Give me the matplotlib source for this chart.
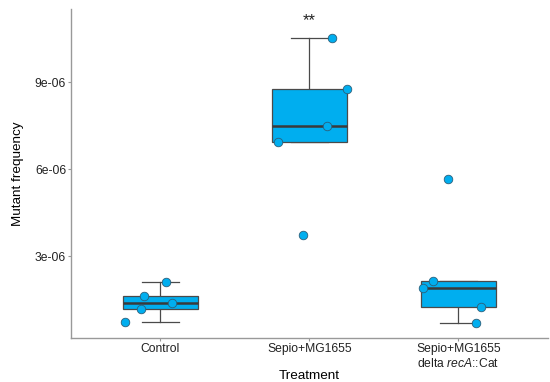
import matplotlib
matplotlib.use('Agg')
import matplotlib.pyplot as plt
import numpy as np

plt.rcParams['font.family'] = ['Liberation Sans', 'DejaVu Sans']
plt.rcParams['mathtext.fontset'] = 'custom'
plt.rcParams['mathtext.rm'] = 'Liberation Sans'
plt.rcParams['mathtext.it'] = 'Liberation Sans:italic'

# Данные (частота мутантов)
categories = ['Control', 'Sepio+MG1655', 'Sepio+MG1655\ndelta $\\it{recA}$::Cat']
control = [2.10e-6, 1.63e-6, 1.38e-6, 1.16e-6, 0.71e-6]
sepio = [10.52e-6, 8.76e-6, 7.49e-6, 6.93e-6, 3.72e-6]
sepio_reca = [5.66e-6, 2.14e-6, 1.91e-6, 1.25e-6, 0.69e-6]
# смещения точек по x (jitter)
jitter = [
    [0.04, -0.11, 0.08, -0.13, -0.24],
    [0.15, 0.25, 0.12, -0.21, -0.04],
    [-0.07, -0.17, -0.24, 0.15, 0.12],
]
signif = ['', '**', '']
signif_y = 11.14e-6

groups = [control, sepio, sepio_reca]
blue = '#00AEEF'
edge = '#3a3a3a'

fig = plt.figure(figsize=(5.5, 3.82), dpi=100)
ax = fig.add_axes([0.129, 0.115, 0.867, 0.861])

pos = np.arange(1, len(groups) + 1)
bp = ax.boxplot(groups, positions=pos, widths=0.5, whis=1.5, showfliers=False,
                patch_artist=True, capwidths=0.25,
                boxprops=dict(facecolor=blue, edgecolor='#4a4a4a', linewidth=0.9),
                whiskerprops=dict(color='#4a4a4a', linewidth=0.9),
                capprops=dict(color='#4a4a4a', linewidth=0.9),
                medianprops=dict(color=edge, linewidth=1.8))
for w in bp['whiskers'] + bp['caps']:
    w.set_zorder(1)
for b in bp['boxes']:
    b.set_zorder(2)
for m in bp['medians']:
    m.set_zorder(3)

for i, vals in enumerate(groups):
    ax.scatter(pos[i] + np.array(jitter[i]), vals, s=38, color=blue,
               edgecolors='#2b5f7a', linewidths=0.6, zorder=4)
    if signif[i]:
        ax.text(pos[i], signif_y, signif[i], ha='center', va='center',
                fontsize=12, color='#222222')

ax.set_xlim(0.4, 3.6)
ax.set_ylim(0.17e-6, 11.52e-6)
ax.set_xticks(pos)
ax.set_xticklabels(categories, fontsize=8.7, linespacing=1.2)
ax.set_yticks([3e-6, 6e-6, 9e-6])
ax.set_yticklabels(['3e-06', '6e-06', '9e-06'], fontsize=8.7)
ax.set_xlabel('Treatment', fontsize=9.7, va='center')
ax.set_ylabel('Mutant frequency', fontsize=9.7, va='center')
ax.xaxis.set_label_coords(0.5, -0.114)
ax.yaxis.set_label_coords(-0.111, 0.5)

for s in ['top', 'right']:
    ax.spines[s].set_visible(False)
for s in ['left', 'bottom']:
    ax.spines[s].set_color('#999999')
    ax.spines[s].set_linewidth(1.0)
ax.tick_params(colors='#999999', labelcolor='#222222', length=2, width=0.8, pad=1.5)

fig.savefig('out.png', dpi=100)
